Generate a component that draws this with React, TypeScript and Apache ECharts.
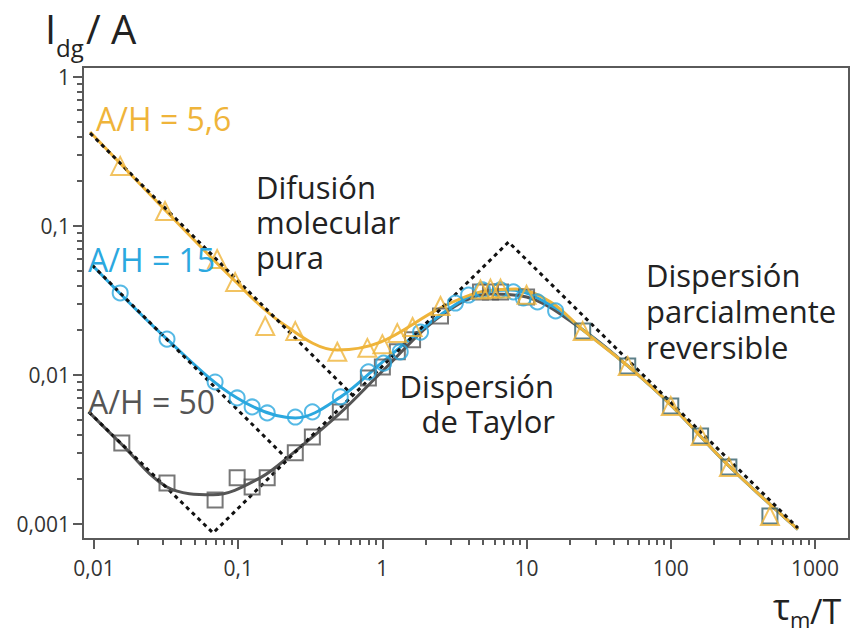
import React, { useEffect, useRef } from "react";
import * as echarts from "echarts";

// ---- tick labels ----
const xTickValues = [0.01, 0.1, 1, 10, 100, 1000];
const xTickLabels = ["0,01", "0,1", "1", "10", "100", "1000"];
const yTickValues = [1, 0.1, 0.01, 0.001];
const yTickLabels = ["1", "0,1", "0,01", "0,001"];
const xMinorDecades = [0.01, 0.1, 1, 10, 100];
const yMinorDecades = [0.001, 0.01, 0.1];
const minorMultipliers = [2, 3, 4, 5, 6, 7, 8, 9];

// ---- A/H = 5,6 (triangles) ----
const yellowX = [0.0152, 0.0311, 0.0715, 0.0953, 0.154, 0.249, 0.487, 0.787, 1.0, 1.27, 1.62, 2.53, 4.79, 5.62, 6.6, 10, 24.5, 50.3, 100, 161, 253, 487];
const yellowY = [0.253, 0.126, 0.06, 0.042, 0.0213, 0.0197, 0.0143, 0.0152, 0.0161, 0.0191, 0.021, 0.029, 0.0375, 0.038, 0.038, 0.0345, 0.0197, 0.0115, 0.0062, 0.0039, 0.00241, 0.00113];
const yellowCurveX = [0.0094, 0.0311, 0.0953, 0.196, 0.487, 0.97, 2.53, 4.79, 8.4, 14.7, 24.5, 50.3, 100, 253, 762];
const yellowCurveY = [0.427, 0.128, 0.0426, 0.0227, 0.0147, 0.0166, 0.0282, 0.0361, 0.0377, 0.0309, 0.0201, 0.0115, 0.0063, 0.00245, 0.00092];

// ---- A/H = 15 (circles) ----
const blueX = [0.0152, 0.0321, 0.0692, 0.0984, 0.125, 0.159, 0.249, 0.327, 0.511, 0.8, 1.02, 1.33, 1.84, 3.21, 3.96, 4.95, 6.6, 8.1, 9.5, 11.9, 15.9];
const blueY = [0.0355, 0.0174, 0.00897, 0.00701, 0.0061, 0.00556, 0.00522, 0.00565, 0.00712, 0.0105, 0.012, 0.0143, 0.0194, 0.0304, 0.0344, 0.0372, 0.0372, 0.0361, 0.0329, 0.0309, 0.0269];
const blueCurveX = [0.0097, 0.0321, 0.0984, 0.249, 0.511, 1.0, 2.53, 4.95, 7.7, 15.9, 24.5, 50.3, 100, 253, 762];
const blueCurveY = [0.0547, 0.0174, 0.007, 0.00515, 0.0071, 0.0122, 0.0253, 0.0361, 0.0372, 0.0282, 0.0201, 0.0115, 0.0063, 0.00245, 0.00092];

// ---- A/H = 50 (squares) ----
const grayX = [0.0156, 0.0321, 0.0692, 0.0984, 0.125, 0.159, 0.249, 0.327, 0.511, 0.8, 1.0, 1.27, 1.62, 2.53, 4.79, 5.62, 6.6, 10, 24.5, 50.3, 100, 161, 253, 487];
const grayY = [0.0035, 0.00188, 0.00145, 0.00204, 0.00177, 0.00204, 0.003, 0.00384, 0.00565, 0.00955, 0.0113, 0.0143, 0.0172, 0.0249, 0.0361, 0.0361, 0.0361, 0.0334, 0.0197, 0.0115, 0.0062, 0.0039, 0.00241, 0.00113];
const grayCurveX = [0.0092, 0.0152, 0.0321, 0.067, 0.142, 0.241, 0.511, 1.02, 2.53, 5.62, 10, 24.5, 50.3, 100, 253, 762];
const grayCurveY = [0.00565, 0.0035, 0.00177, 0.00157, 0.00204, 0.003, 0.00556, 0.0108, 0.0249, 0.035, 0.0334, 0.0201, 0.0115, 0.0063, 0.00245, 0.00092];

// ---- asymptotes (dashed) ----
const dashYellowX = [0.0094, 0.619];
const dashYellowY = [0.42, 0.00734];
const dashBlueX = [0.0097, 0.215];
const dashBlueY = [0.0547, 0.00277];
const dashGrayX = [0.0092, 0.067, 7.5, 762];
const dashGrayY = [0.00565, 0.00087, 0.078, 0.00094];

const L = Math.log10;
const X_MIN = -2.076;
const X_MAX = 3.236;
const Y_MIN = -3.101;
const Y_MAX = 0.067;

const FONT = '"Open Sans", "Noto Sans", sans-serif';
const YELLOW = "#efb43a";
const BLUE = "#2ba8df";
const GRAY = "#555555";
const AX = "#5a5a5a";

const pts = (xs: number[], ys: number[]) => xs.map((x, i) => [L(x), L(ys[i])]);
const minorOf = (decades: number[]) => {
  const out: number[] = [];
  decades.forEach((d) => minorMultipliers.forEach((k) => out.push(L(k * d))));
  return out;
};

const labelFor = (vals: number[], labels: string[]) => (v: number) => {
  const i = vals.findIndex((t) => Math.abs(L(t) - v) < 1e-6);
  return i >= 0 ? labels[i] : "";
};

export default function App() {
  const ref = useRef<HTMLDivElement>(null);
  useEffect(() => {
    if (!ref.current) return;
    const chart = echarts.init(ref.current, undefined, { renderer: "svg" });

    const curve = (name: string, xs: number[], ys: number[], color: string) => ({
      name,
      type: "line",
      data: pts(xs, ys),
      smooth: 0.35,
      showSymbol: false,
      symbol: "none",
      lineStyle: { color, width: 3 },
      z: 2,
    });
    const dashed = (xs: number[], ys: number[]) => ({
      type: "line",
      data: pts(xs, ys),
      showSymbol: false,
      symbol: "none",
      lineStyle: { color: "#111", width: 3, type: [4, 4], cap: "butt" },
      z: 3,
    });
    const markers = (name: string, xs: number[], ys: number[], symbol: string, size: number, color: string, alt?: string) => ({
      name,
      type: "scatter",
      symbol,
      symbolSize: size,
      data: xs.map((x, i) => ({
        value: [L(x), L(ys[i])],
        itemStyle: alt && x > 20 ? { borderColor: alt } : undefined,
      })),
      itemStyle: { color: "rgba(255,255,255,0)", borderColor: color, borderWidth: 2 },
      z: 4,
    });

    const text = (t: string, x: number, y: number, color: string, size: number, align = "left") => ({
      type: "text",
      x,
      y,
      z: 10,
      style: {
        text: t,
        fill: color,
        font: `${size}px ${FONT}`,
        textAlign: align,
        textVerticalAlign: "middle",
      },
    });

    const commonAxis = {
      type: "value",
      splitLine: { show: false },
      minorTick: { show: false },
    };

    chart.setOption({
      animation: false,
      grid: {
        left: 83,
        right: 6,
        top: 67,
        bottom: 96,
        show: true,
        borderColor: AX,
        borderWidth: 2,
        backgroundColor: "transparent",
      },
      xAxis: [
        {
          ...commonAxis,
          min: X_MIN,
          max: X_MAX,
          position: "bottom",
          axisLine: { show: true, onZero: false, lineStyle: { color: AX, width: 2 } },
          axisTick: { show: true, inside: false, length: 10, customValues: xTickValues.map(L), lineStyle: { color: AX, width: 2 } },
          axisLabel: {
            customValues: xTickValues.map(L),
            formatter: labelFor(xTickValues, xTickLabels),
            margin: 18,
            fontSize: 21,
            fontFamily: FONT,
            color: "#333",
          },
        },
        {
          ...commonAxis,
          min: X_MIN,
          max: X_MAX,
          position: "bottom",
          offset: 0,
          axisLine: { show: false, onZero: false },
          axisTick: { show: true, inside: false, length: 6, customValues: minorOf(xMinorDecades), lineStyle: { color: AX, width: 2 } },
          axisLabel: { show: false },
        },
      ],
      yAxis: [
        {
          ...commonAxis,
          min: Y_MIN,
          max: Y_MAX,
          position: "left",
          axisLine: { show: true, onZero: false, lineStyle: { color: AX, width: 2 } },
          axisTick: { show: true, inside: false, length: 10, customValues: yTickValues.map(L), lineStyle: { color: AX, width: 2 } },
          axisLabel: {
            customValues: yTickValues.map(L),
            formatter: labelFor(yTickValues, yTickLabels),
            margin: 13,
            fontSize: 21,
            fontFamily: FONT,
            color: "#333",
          },
        },
        {
          ...commonAxis,
          min: Y_MIN,
          max: Y_MAX,
          position: "left",
          offset: 0,
          axisLine: { show: false, onZero: false },
          axisTick: { show: true, inside: false, length: 6, customValues: minorOf(yMinorDecades), lineStyle: { color: AX, width: 2 } },
          axisLabel: { show: false },
        },
      ],
      series: [
        curve("A/H = 50 ajuste", grayCurveX, grayCurveY, GRAY),
        curve("A/H = 15 ajuste", blueCurveX, blueCurveY, BLUE),
        curve("A/H = 5,6 ajuste", yellowCurveX, yellowCurveY, YELLOW),
        dashed(dashYellowX, dashYellowY),
        dashed(dashBlueX, dashBlueY),
        dashed(dashGrayX, dashGrayY),
        markers("A/H = 50", grayX, grayY, "rect", 15, GRAY, "#35606b"),
        markers("A/H = 15", blueX, blueY, "circle", 15, BLUE),
        markers("A/H = 5,6", yellowX, yellowY, "triangle", 18, YELLOW),
      ],
      graphic: [
        text("I", 45, 28, "#222", 40),
        text("dg", 56, 47, "#222", 24),
        text("/ A", 86, 28, "#222", 40),
        text("τ", 773, 606, "#222", 36),
        text("m", 790, 619, "#222", 22),
        text("/T", 810, 611, "#222", 34),
        text("A/H = 5,6", 96, 118, YELLOW, 32),
        text("A/H = 15", 88, 259, BLUE, 32),
        text("A/H = 50", 88, 401, GRAY, 32),
        text("Difusión", 256, 187, "#222", 31),
        text("molecular", 256, 222, "#222", 31),
        text("pura", 256, 257, "#222", 31),
        text("Dispersión", 554, 386, "#222", 31, "right"),
        text("de Taylor", 555, 421, "#222", 31, "right"),
        text("Dispersión", 646, 275, "#222", 31),
        text("parcialmente", 646, 311, "#222", 31),
        text("reversible", 646, 347, "#222", 31),
      ],
    });
    return () => chart.dispose();
  }, []);

  return (
    <div
      ref={ref}
      style={{ position: "fixed", left: 0, top: 0, width: 855, height: 635, background: "#fff" }}
    />
  );
}
